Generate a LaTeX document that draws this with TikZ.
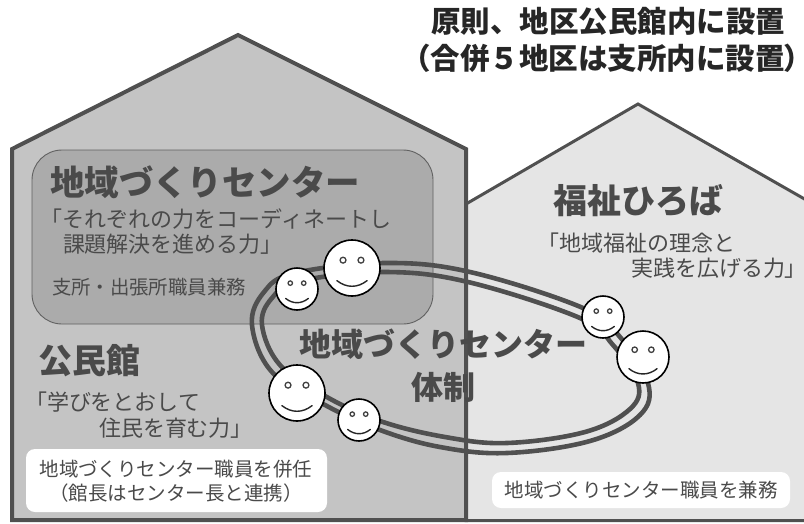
\documentclass[tikz,border=0pt]{standalone}
\usepackage{fontspec}
\setmainfont{Noto Sans CJK JP}
\definecolor{ink}{HTML}{4A4A4A}
\definecolor{edge}{HTML}{505050}
\newcommand\tightclose[1]{{\addfontfeatures{RawFeature=+palt}#1}}
\tikzset{
  x=1pt,y=-1pt,
  house/.style={line width=4pt,draw=edge,line join=miter},
  ringline/.style={draw=edge,line width=4.6pt},
  lbl/.style={inner sep=0pt,outer sep=0pt,text=ink,font=\fontsize{#1}{#1}\selectfont,align=left,anchor=base west},
  head/.style={inner sep=0pt,outer sep=0pt,text=ink,font=\fontsize{#1}{#1}\selectfont\bfseries,anchor=base},
  whitebox/.style={fill=white,rounded corners=9pt,inner sep=0pt},
  face/.style={circle,draw=black,fill=white,line width=1.6pt,minimum size=#1,inner sep=0pt},
  eye/.style={draw=black!75,line width=1.3pt,fill=white},
  mouth/.style={draw=black!85,line width=1.4pt,line cap=round}
}
% name, x, y, radius
\newcommand\smiley[4]{%
  \node[face=#4*2pt] (#1) at (#2,#3) {};
  \begin{scope}[shift={(#1.center)}]
    \draw[eye] (-#4*0.32,-#4*0.28) circle[radius=#4*0.105];
    \draw[eye] (#4*0.32,-#4*0.28) circle[radius=#4*0.105];
    \draw[mouth] (-#4*0.54,#4*0.45) .. controls (-#4*0.2,#4*0.72) and (#4*0.2,#4*0.72) .. (#4*0.54,#4*0.45);
  \end{scope}}
\begin{document}
\begin{tikzpicture}
\useasboundingbox (0,0) rectangle (804,523);
% right house
\filldraw[house,line width=3pt,fill=black!10] (466,204) -- (638,104) -- (808,201) -- (808,520.5) -- (466,520.5) -- cycle;
% left house
\filldraw[house,fill=black!23] (12,149) -- (238,35) -- (466,149) -- (466,520) -- (12,520) -- cycle;
% centre panel
\node[draw=black!62,fill=black!33,rounded corners=30pt,minimum width=401pt,minimum height=174pt,inner sep=0pt,line width=0.9pt] (panel) at (232.5,237) {};
% ring
\draw[ringline] plot[smooth cycle,tension=0.62] coordinates {(252,325) (264,292) (295,273) (385,263) (470,272) (583,308) (620,337) (648,383) (640,415) (590,441) (507,453) (440,447) (380,430) (325,405) (272,372)};
\draw[ringline] plot[smooth cycle,tension=0.62] coordinates {(262,325) (272,298) (300,281) (385,272) (468,282) (580,318) (613,345) (638,383) (630,409) (585,432) (507,443) (445,437) (380,421) (325,396) (280,365)};
% texts
\node[head=29.5,text=black!85] (t1) at (608,32) {原則、地区公民館内に設置};
\node[head=29.5,text=black!85] (t2) at (600.5,69) {（合併５地区は支所内に設置\tightclose{）}};
\node[head=34.5,anchor=base west] (h1) at (50,195) {地域づくりセンター};
\node[lbl=22] (c1) at (41,227) {「それぞれの力をコーディネートし};
\node[lbl=22] (c2) at (63,252) {課題解決を進める力」};
\node[lbl=19.4] (c3) at (52,294) {支所・出張所職員兼務};
\node[head=34,anchor=base west] (h2) at (38,373) {公民館};
\node[lbl=22] (k1) at (25,410) {「学びをとおして};
\node[lbl=22] (k2) at (99,436) {住民を育む力」};
\node[head=34,anchor=base west] (h3) at (553,213) {福祉ひろば};
\node[lbl=22] (f1) at (537,251) {「地域福祉の理念と};
\node[lbl=22] (f2) at (631,276) {実践を広げる力\tightclose{」}};
\node[head=32] (m1) at (443,356) {地域づくりセンター};
\node[head=32] (m2) at (443,399) {体制};
% boxes
\node[whitebox,minimum width=301pt,minimum height=63pt] (b1) at (176.5,480.5) {};
\node[whitebox,minimum width=298pt,minimum height=36pt] (b2) at (641,490) {};
\node[lbl=19.5,anchor=base] (b1a) at (176,476) {地域づくりセンター職員を併任};
\node[lbl=19.5,anchor=base] (b1b) at (176,500) {（館長はセンター長と連携）};
\node[lbl=19.5,anchor=base] (b2a) at (641,497) {地域づくりセンター職員を兼務};
% faces
\smiley{s1}{352}{268}{28}
\smiley{s2}{297}{289}{21}
\smiley{s3}{603}{317}{21}
\smiley{s4}{643}{357}{26}
\smiley{s5}{297}{393}{28}
\smiley{s6}{359}{420}{21}
\end{tikzpicture}
\end{document}
